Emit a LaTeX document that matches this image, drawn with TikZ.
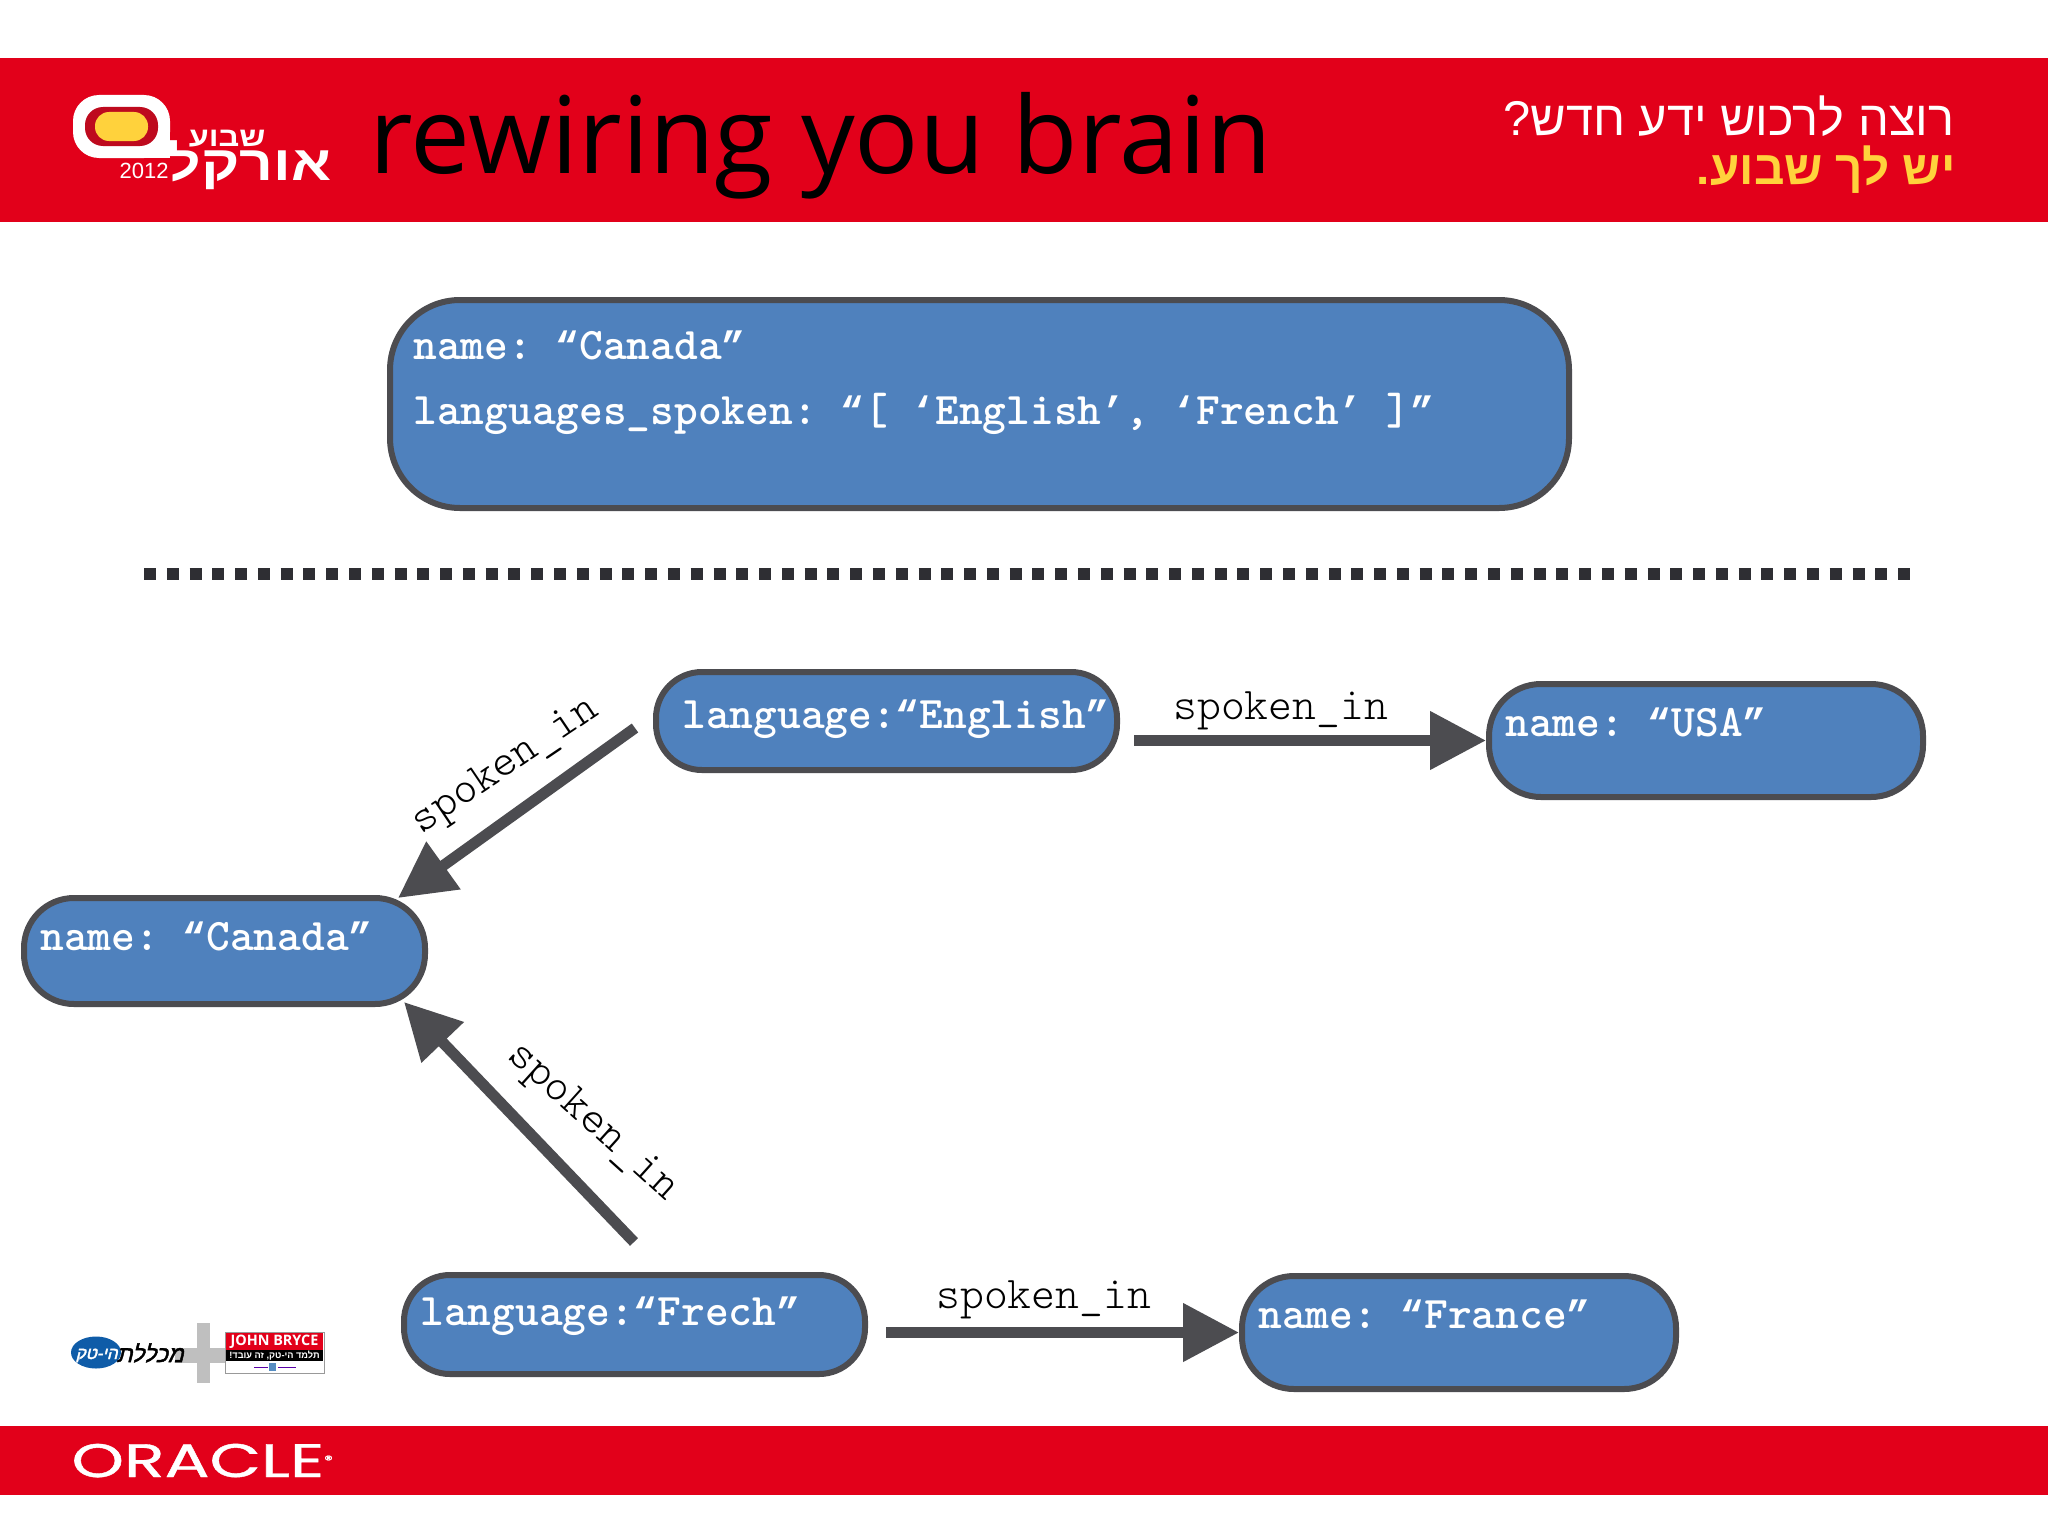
\documentclass[tikz,border=0pt]{standalone}
\usepackage{fontspec}
\usetikzlibrary{arrows.meta,shapes.geometric}
\TeXXeTstate=1
\setmainfont{Open Sans}
\newfontfamily\hebfont[Script=Hebrew]{Liberation Sans}
\newfontfamily\slantfont[Script=Hebrew,FakeSlant=0.25,FakeBold=2]{Liberation Sans}
\newfontfamily\oraclefont[FakeBold=0.8]{Poppins}
\newfontfamily\quotefont[Scale=0.875]{Liberation Mono}
\newcommand{\oqq}{{\quotefont “}}
\newcommand{\cqq}{{\quotefont ”}}
\newcommand{\oq}{{\quotefont ‘}}
\newcommand{\cq}{{\quotefont ’}}
\definecolor{barred}{HTML}{E2001A}
\definecolor{darkred}{HTML}{BE0A1E}
\definecolor{sunyellow}{HTML}{FFD23C}
\definecolor{pillblue}{HTML}{4F81BD}
\definecolor{linegray}{HTML}{4C4C50}
\definecolor{dotgray}{HTML}{2E2E33}
\definecolor{hitechblue}{HTML}{0F5CA8}
\def\ux{0.5pt}
\def\uy{-0.5pt}
\tikzset{
	pill/.style={draw=linegray,fill=pillblue,line width=3pt,rounded corners=#1},
	pilltext/.style={anchor=base west,inner sep=0pt,text=white,font=\frenchspacing\ttfamily\bfseries\fontsize{22.6}{24}\selectfont},
	linklabel/.style={inner sep=0pt,text=black,font=\ttfamily\fontseries{l}\fontsize{22.7}{24}\selectfont},
	link/.style={draw=linegray,line width=5.5pt,-{Triangle[length=28pt,width=28pt]}},
	hebtext/.style={inner sep=0pt,anchor=base east}
}

\begin{document}
\begin{tikzpicture}[x=\ux,y=\uy]
		\useasboundingbox (0,0) rectangle (2048,1536);
		\fill[white] (0,0) rectangle (2048,1536);

		\fill[barred] (0,58) rectangle (2048,222);
		\fill[barred] (0,1426) rectangle (2048,1495);

		\fill[white,rounded corners=13pt] (73,95) rectangle (170,158);
		\fill[white] (140,130) rectangle (170,158);
		\fill[darkred,rounded corners=9pt] (85,107) rectangle (158,146);
		\fill[sunyellow,rounded corners=7pt] (95,112) rectangle (148,141);
		\node[hebtext,text=white,xscale=1.2,font=\hebfont\bfseries\fontsize{13.5}{14}\selectfont] (logoweek) at (266,146) {\beginR שבוע\endR};
		\node[hebtext,text=white,xscale=1.2,font=\hebfont\bfseries\fontsize{24.5}{26}\selectfont] (logooracle) at (332,180) {\beginR אורקל\endR};
		\node[hebtext,text=white,font=\hebfont\fontsize{11}{12}\selectfont] (logoyear) at (169,178) {2012};

		\node[anchor=base west,inner sep=0pt,text=black,font=\fontsize{53.4}{60}\selectfont] (title) at (369,173) {rewiring you brain};

		\node[hebtext,text=white,font=\hebfont\fontsize{24.4}{26}\selectfont] (slogantop) at (1955,135) {\beginR רוצה לרכוש ידע חדש?\endR};
		\node[hebtext,text=sunyellow,font=\hebfont\bfseries\fontsize{23.8}{26}\selectfont] (sloganbottom) at (1956,184) {\beginR יש לך שבוע.\endR};

		\node[pill=35pt,minimum width=589.5pt,minimum height=104pt] (document) at (979.5,404) {};
		\node[pilltext] (documentname) at (413,359.5) {name: \oqq Canada\cqq};
		\node[pilltext] (documentlang) at (413,424.5) {languages\_spoken: \oqq[ \oq English\cq, \oq French\cq{} ]\cqq};

		\coordinate (dividerleft) at (144,574);
		\coordinate (dividerright) at (1910,574);
		\draw[dotgray,line width=6pt,dash pattern=on 6pt off 5.39pt] (dividerleft) -- (dividerright);

		\node[pill=23pt,minimum width=230.5pt,minimum height=49pt] (english) at (886.5,721) {};
		\node[pilltext] (englishtext) at (682,728.5) {language:\oqq English\cqq};
		\node[pill=25pt,minimum width=200.5pt,minimum height=53pt] (canada) at (224.5,951) {};
		\node[pilltext] (canadatext) at (40,950.5) {name: \oqq Canada\cqq};
		\node[pill=26pt,minimum width=217pt,minimum height=56.5pt] (usa) at (1706,740.5) {};
		\node[pilltext] (usatext) at (1505,736.5) {name: \oqq USA\cqq};
		\node[pill=23pt,minimum width=230.5pt,minimum height=49.5pt] (french) at (634.5,1324.5) {};
		\node[pilltext] (frenchtext) at (420,1325.5) {language:\oqq Frech\cqq};
		\node[pill=26pt,minimum width=217pt,minimum height=56.5pt] (france) at (1459,1332.5) {};
		\node[pilltext] (francetext) at (1258,1328.5) {name: \oqq France\cqq};

		\coordinate (englishout) at (1134,740.5);
		\coordinate (englishdown) at (635,728);
		\coordinate (frenchup) at (634,1242);
		\coordinate (frenchout) at (886,1332.5);
		\draw[link] (englishout) -- (usa.west);
		\draw[link] (englishdown) -- ([xshift=-15pt,yshift=-1.5pt]canada.north east);
		\draw[link] (frenchup) -- ([xshift=-12pt,yshift=2.5pt]canada.south east);
		\draw[link] (frenchout) -- (france.west);

		\node[linklabel,anchor=base west] (labelusa) at (1173,719) {spoken\_in};
		\node[linklabel,rotate=34] (labelcanadatop) at (506,767) {spoken\_in};
		\node[linklabel,rotate=-42] (labelcanadabottom) at (592,1123) {spoken\_in};
		\node[linklabel,anchor=base west] (labelfrance) at (936,1308) {spoken\_in};

		\fill[black!25] (175,1348) rectangle (225,1363);
		\fill[black!25] (197,1323) rectangle (210,1383);
		\fill[hitechblue] (96,1352.5) ellipse (25 and 16);
		\node[hebtext,text=white,font=\slantfont\fontsize{8.5}{9}\selectfont] (hitechname) at (118,1359) {\beginR הי-טק\endR};
		\node[hebtext,text=black,font=\slantfont\fontsize{11.5}{12}\selectfont] (collegename) at (184,1362) {\beginR מכללת\endR};
		\draw[black!40,fill=white,line width=0.5pt] (225,1332) rectangle (324,1373);
		\fill[barred] (226,1333) rectangle (323,1350);
		\fill[black] (226,1350) rectangle (323,1361);
		\node[inner sep=0pt,text=white,font=\bfseries\fontsize{7.2}{8}\selectfont] (brycename) at (274.5,1341.5) {JOHN BRYCE};
		\node[inner sep=0pt,text=white,font=\hebfont\bfseries\fontsize{4.6}{5}\selectfont] (bryceslogan) at (274.5,1355.5) {\beginR תלמד הי-טק, זה עובד!\endR};
		\fill[violet!70!blue] (254,1366.5) rectangle (268,1368);
		\fill[violet!70!blue] (278,1366.5) rectangle (296,1368);
		\fill[hitechblue!70] (269,1363) rectangle (276,1371);

		\node[anchor=base west,inner sep=0pt,text=white,xscale=1.42,font=\oraclefont\fontsize{23.5}{24}\selectfont] (oracle) at (71,1477) {ORACLE\raisebox{6.5pt}{\fontsize{6}{6}\selectfont ®}};
		\end{tikzpicture}
\end{document}
